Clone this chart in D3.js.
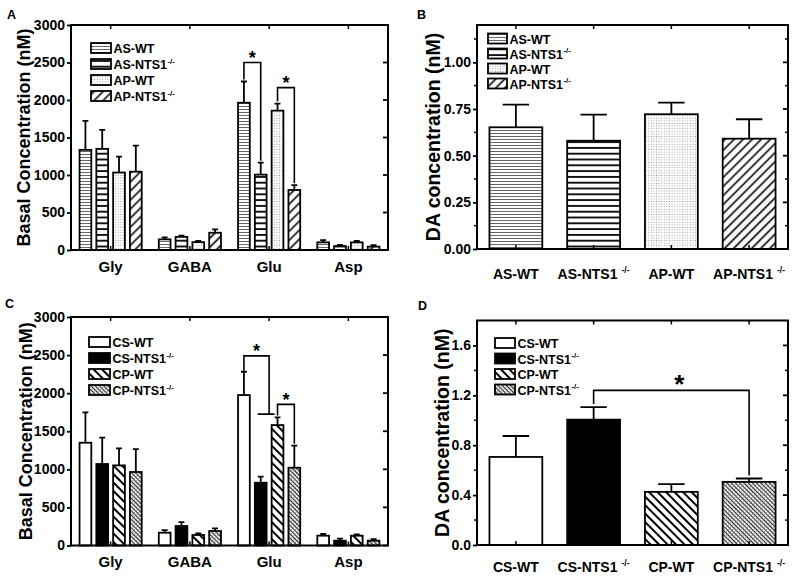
<!DOCTYPE html>
<html><head><meta charset="utf-8">
<script src="https://cdn.jsdelivr.net/npm/d3@7"></script>
<style>body{margin:0;background:#fff}svg{display:block}</style>
</head><body><svg id="chart" width="800" height="580"></svg>
<script>
// ---------------- DATA ----------------
const aminoAcids = ["Gly", "GABA", "Glu", "Asp"];
const seriesTop = ["AS-WT", "AS-NTS1", "AP-WT", "AP-NTS1"];
const seriesBottom = ["CS-WT", "CS-NTS1", "CP-WT", "CP-NTS1"];
const seriesSup = ["", "-/-", "", "-/-"];

// Panel A (nM), per series across aminoAcids
const aASWT = [1335, 142, 1964, 102];
const aASWTsem = [387, 27, 283, 30];
const aASNTS1 = [1348, 175, 1005, 53];
const aASNTS1sem = [255, 16, 160, 14];
const aAPWT = [1033, 105, 1858, 102];
const aAPWTsem = [213, 15, 95, 18];
const aAPNTS1 = [1044, 230, 800, 45];
const aAPNTS1sem = [347, 45, 64, 21];

// Panel B (DA, nM) per seriesTop
const bMean = [0.652, 0.580, 0.722, 0.591];
const bSem = [0.121, 0.140, 0.062, 0.104];

// Panel C (nM)
const cCSWT = [1349, 168, 1975, 129];
const cCSWTsem = [399, 35, 306, 22];
const cCSNTS1 = [1070, 256, 824, 63];
const cCSNTS1sem = [345, 52, 79, 26];
const cCPWT = [1052, 138, 1581, 129];
const cCPWTsem = [224, 22, 101, 18];
const cCPNTS1 = [965, 190, 1021, 63];
const cCPNTS1sem = [300, 35, 290, 21];

// Panel D (DA, nM) per seriesBottom
const dMean = [0.706, 1.005, 0.426, 0.506];
const dSem = [0.168, 0.101, 0.062, 0.027];

// Axis ticks
const ticksAC = [0, 500, 1000, 1500, 2000, 2500, 3000];
const ticksB = [0, 0.25, 0.5, 0.75, 1.0];
const minorB = [0.125, 0.375, 0.625, 0.875, 1.125];
const ticksD = [0, 0.4, 0.8, 1.2, 1.6];
const minorD = [0.2, 0.6, 1.0, 1.4];

// Significance brackets (in data terms)
const bracketsA = [{cat: "Glu", from: 0, to: 1, level: 2500}, {cat: "Glu", from: 2, to: 3, level: 2165}];
const bracketsC = [{cat: "Glu", from: 0, to: [1, 2], level: 2490, sub: 1725}, {cat: "Glu", from: 2, to: 3, level: 1853}];
const bracketsD = [{from: 1, to: 3, level: 1.24}];

// ---------------- DRAWING ----------------
const FONT = "'Liberation Sans', Arial, Helvetica, sans-serif";
const svg = d3.select("#chart");
const defs = svg.append("defs");

function pat(id, w, h, rot, draw) {
  const p = defs.append("pattern").attr("id", id).attr("patternUnits", "userSpaceOnUse")
    .attr("width", w).attr("height", h);
  if (rot) p.attr("patternTransform", `rotate(${rot})`);
  p.append("rect").attr("width", w).attr("height", h).attr("fill", "#fff");
  draw(p, w, h);
}
pat("hfine", 4, 3, 0, (p, w, h) => p.append("line").attr("x1", 0).attr("x2", w).attr("y1", 1.5).attr("y2", 1.5).attr("stroke", "#555").attr("stroke-width", 0.9));
pat("hthick", 4, 5.8, 0, (p, w, h) => p.append("line").attr("x1", 0).attr("x2", w).attr("y1", 2.9).attr("y2", 2.9).attr("stroke", "#000").attr("stroke-width", 1.8));
pat("dots", 2.6, 2.6, 0, (p) => p.append("rect").attr("x", 0.8).attr("y", 0.8).attr("width", 0.9).attr("height", 0.9).attr("fill", "#8a8a8a"));
pat("fwd", 6.4, 6.4, 45, (p, w, h) => p.append("line").attr("x1", w / 2).attr("x2", w / 2).attr("y1", 0).attr("y2", h).attr("stroke", "#000").attr("stroke-width", 1.6));
pat("back", 6, 6, -45, (p, w, h) => p.append("line").attr("x1", w / 2).attr("x2", w / 2).attr("y1", 0).attr("y2", h).attr("stroke", "#000").attr("stroke-width", 2));
pat("cross", 3, 3, -45, (p, w, h) => {
  p.append("line").attr("x1", 1.5).attr("x2", 1.5).attr("y1", 0).attr("y2", h).attr("stroke", "#222").attr("stroke-width", 1.1);
  p.append("line").attr("x1", 0).attr("x2", w).attr("y1", 1.5).attr("y2", 1.5).attr("stroke", "#777").attr("stroke-width", 0.6);
});
const fillsTop = ["url(#hfine)", "url(#hthick)", "url(#dots)", "url(#fwd)"];
const fillsBottom = ["#fff", "#000", "url(#back)", "url(#cross)"];

function addText(g, x, y, base, sup, size, anchor, supDx) {
  const t = g.append("text").attr("x", x).attr("y", y).attr("font-size", size)
    .attr("font-family", FONT).attr("font-weight", "bold").attr("fill", "#000")
    .attr("text-anchor", anchor || "start");
  t.append("tspan").text(base);
  if (sup) t.append("tspan").attr("dx", supDx || 0).attr("dy", -size * 0.42).attr("font-size", size * 0.62).text(sup);
  return t;
}

function yAxes(g, p, y, majors, minors, fmt) {
  const ax = d3.axisLeft(y).tickValues(majors).tickSize(4).tickPadding(2).tickFormat(fmt);
  const a = g.append("g").attr("transform", `translate(${p.left},0)`).call(ax);
  a.select(".domain").remove();
  a.selectAll("line").attr("stroke-width", 1.8);
  a.selectAll("text").attr("font-size", 14).attr("font-family", FONT).attr("font-weight", "bold").attr("fill", "#000");
  // minor outward left
  g.selectAll(null).data(minors || []).join("line").attr("x1", p.left - 3).attr("x2", p.left)
    .attr("y1", d => y(d)).attr("y2", d => y(d)).attr("stroke", "#000").attr("stroke-width", 1.5);
  // mirrored inward right
  g.selectAll(null).data(majors).join("line").attr("x1", p.right - 5).attr("x2", p.right)
    .attr("y1", d => y(d)).attr("y2", d => y(d)).attr("stroke", "#000").attr("stroke-width", 1.8);
  g.selectAll(null).data(minors || []).join("line").attr("x1", p.right - 3).attr("x2", p.right)
    .attr("y1", d => y(d)).attr("y2", d => y(d)).attr("stroke", "#000").attr("stroke-width", 1.5);
}

function frame(g, p) {
  g.append("rect").attr("x", p.left).attr("y", p.top).attr("width", p.right - p.left).attr("height", p.bottom - p.top)
    .attr("fill", "none").attr("stroke", "#000").attr("stroke-width", 2);
}

function xTicks(g, p, centers) {
  g.selectAll(null).data(centers).join("line").attr("x1", d => d).attr("x2", d => d)
    .attr("y1", p.bottom - 4).attr("y2", p.bottom).attr("stroke", "#000").attr("stroke-width", 1.5);
  g.selectAll(null).data(centers).join("line").attr("x1", d => d).attr("x2", d => d)
    .attr("y1", p.top).attr("y2", p.top + 4).attr("stroke", "#000").attr("stroke-width", 1.5);
}

function legend(g, p, labels, fills) {
  labels.forEach((lab, i) => {
    const yTop = p.legY + i * p.legStep;
    g.append("rect").attr("x", p.legX).attr("y", yTop).attr("width", p.legW).attr("height", 10)
      .attr("fill", fills[i]).attr("stroke", "#000").attr("stroke-width", 1.8);
    addText(g, p.legX + p.legW + 2.5, yTop + 10, lab, seriesSup[i], 12.5, "start", 0.5);
  });
}

function drawErrBars(g, rows, cx, y, bw) {
  g.selectAll(null).data(rows).join("path")
    .attr("d", d => `M${cx(d)},${y(d.m)}V${y(d.m + d.e)}M${cx(d) - bw / 4},${y(d.m + d.e)}H${cx(d) + bw / 4}`)
    .attr("stroke", "#000").attr("stroke-width", 1.8).attr("fill", "none");
}
function drawBars(g, rows, cx, y, bw) {
  g.selectAll(null).data(rows).join("rect")
    .attr("x", d => cx(d) - bw / 2).attr("y", d => y(d.m)).attr("width", bw)
    .attr("height", d => y(0) - y(d.m)).attr("fill", d => d.fill)
    .attr("stroke", "#000").attr("stroke-width", 1.8);
}
function star(g, x, yb, size) {
  g.append("text").attr("x", x).attr("y", yb).attr("text-anchor", "middle").attr("font-size", size)
    .attr("font-family", FONT).attr("font-weight", "bold").text("*");
}
function yTitle(g, x, y, txt, size) {
  g.append("text").attr("transform", `translate(${x},${y}) rotate(-90)`).attr("text-anchor", "middle")
    .attr("font-size", size).attr("font-family", FONT).attr("font-weight", "bold").text(txt);
}

function groupedPanel(p) {
  const g = svg.append("g");
  const x = d3.scaleBand().domain(aminoAcids).range([p.left, p.right]);
  const span = x.bandwidth() * 0.848;
  const xi = d3.scaleBand().domain(p.series).range([0, span]);
  const bw = xi.bandwidth() * 0.7;
  const y = d3.scaleLinear().domain([0, p.max]).range([p.bottom, p.top]);
  const cxOf = (c, s) => x(c) + (x.bandwidth() - span) / 2 + xi(s) + xi.bandwidth() / 2;
  const rows = [];
  p.series.forEach((s, i) => aminoAcids.forEach((c, j) =>
    rows.push({s, c, m: p.means[i][j], e: p.sems[i][j], fill: p.fills[i]})));
  const cx = d => cxOf(d.c, d.s);
  drawBars(g, rows, cx, y, bw);
  drawErrBars(g, rows, cx, y, bw);
  frame(g, p);
  yAxes(g, p, y, p.ticks, null, d3.format("d"));
  xTicks(g, p, aminoAcids.map(c => x(c) + x.bandwidth() / 2));
  aminoAcids.forEach(c => addText(g, x(c) + x.bandwidth() / 2, p.xLabY, c, "", 15, "middle"));
  legend(g, p, p.series, p.fills);
  yTitle(g, p.titleX, (p.top + p.bottom) / 2, "Basal Concentration (nM)", 18);
  addText(g, p.labX, p.labY, p.label, "", 12.5, "start");
  // brackets
  const top = (c, i) => { const j = aminoAcids.indexOf(c); return y(p.means[i][j] + p.sems[i][j]); };
  p.brackets.forEach(b => {
    const xl = cxOf(b.cat, p.series[b.from]);
    const yl = y(b.level);
    let path, xr;
    if (Array.isArray(b.to)) {
      const xa = cxOf(b.cat, p.series[b.to[0]]), xb = cxOf(b.cat, p.series[b.to[1]]);
      xr = (xa + xb) / 2;
      const ys = y(b.sub);
      path = `M${xl},${top(b.cat, b.from) - 1}V${yl}H${xr}V${ys}M${xa - 3},${ys}H${xb - 3}`;
    } else {
      xr = cxOf(b.cat, p.series[b.to]);
      path = `M${xl},${top(b.cat, b.from) - 2}V${yl}H${xr}V${top(b.cat, b.to) - 2}`;
    }
    g.append("path").attr("d", path).attr("fill", "none").attr("stroke", "#000").attr("stroke-width", 1.6);
    star(g, (xl + xr) / 2, yl + 1.5, 18);
  });
}

function simplePanel(p) {
  const g = svg.append("g");
  const x = d3.scaleBand().domain(p.series).range([p.left, p.right]);
  const bw = x.bandwidth() * 0.68;
  const y = d3.scaleLinear().domain([0, p.max]).range([p.bottom, p.top]);
  const rows = p.series.map((s, i) => ({s, m: p.means[i], e: p.sems[i], fill: p.fills[i]}));
  const cx = d => x(d.s) + x.bandwidth() / 2;
  drawBars(g, rows, cx, y, bw);
  drawErrBars(g, rows, cx, y, bw);
  frame(g, p);
  yAxes(g, p, y, p.ticks, p.minors, d3.format(p.fmt));
  xTicks(g, p, p.series.map(s => x(s) + x.bandwidth() / 2));
  p.series.forEach((s, i) => addText(g, x(s) + x.bandwidth() / 2, p.xLabY, s, seriesSup[i], 14, "middle", 4));
  legend(g, p, p.series, p.fills);
  yTitle(g, p.titleX, (p.top + p.bottom) / 2, "DA concentration (nM)", 19.5);
  addText(g, p.labX, p.labY, p.label, "", 12.5, "start");
  (p.brackets || []).forEach(b => {
    const r1 = rows[b.from], r2 = rows[b.to];
    const xl = cx(r1), xr = cx(r2), yl = y(b.level);
    g.append("path").attr("d", `M${xl},${y(r1.m + r1.e) - 3}V${yl}H${xr}V${y(r2.m + r2.e) - 3}`)
      .attr("fill", "none").attr("stroke", "#000").attr("stroke-width", 1.6);
    star(g, (xl + xr) / 2 + 8, yl + 3, 26);
  });
}

groupedPanel({label: "A", labX: 7, labY: 18.5, left: 71, right: 388, top: 25, bottom: 250, max: 3000,
  ticks: ticksAC, series: seriesTop, fills: fillsTop,
  means: [aASWT, aASNTS1, aAPWT, aAPNTS1], sems: [aASWTsem, aASNTS1sem, aAPWTsem, aAPNTS1sem],
  xLabY: 272, titleX: 29.5, legX: 91, legY: 43, legStep: 16, legW: 20, brackets: bracketsA});

simplePanel({label: "B", labX: 417, labY: 19, left: 477, right: 788, top: 25, bottom: 249, max: 1.2,
  ticks: ticksB, minors: minorB, fmt: ".2f", series: seriesTop, fills: fillsTop,
  means: bMean, sems: bSem, xLabY: 278.5, titleX: 440, legX: 488, legY: 33.5, legStep: 15, legW: 19});

groupedPanel({label: "C", labX: 5, labY: 307.5, left: 71, right: 388, top: 317, bottom: 545.5, max: 3000,
  ticks: ticksAC, series: seriesBottom, fills: fillsBottom,
  means: [cCSWT, cCSNTS1, cCPWT, cCPNTS1], sems: [cCSWTsem, cCSNTS1sem, cCPWTsem, cCPNTS1sem],
  xLabY: 567, titleX: 31.5, legX: 89, legY: 337, legStep: 16, legW: 21, brackets: bracketsC});

simplePanel({label: "D", labX: 418, labY: 310, left: 477, right: 788, top: 320.5, bottom: 545, max: 1.8,
  ticks: ticksD, minors: minorD, fmt: ".1f", series: seriesBottom, fills: fillsBottom,
  means: dMean, sems: dSem, xLabY: 572, titleX: 449, legX: 495, legY: 338, legStep: 15.5, legW: 20,
  brackets: bracketsD});
</script></body></html>
